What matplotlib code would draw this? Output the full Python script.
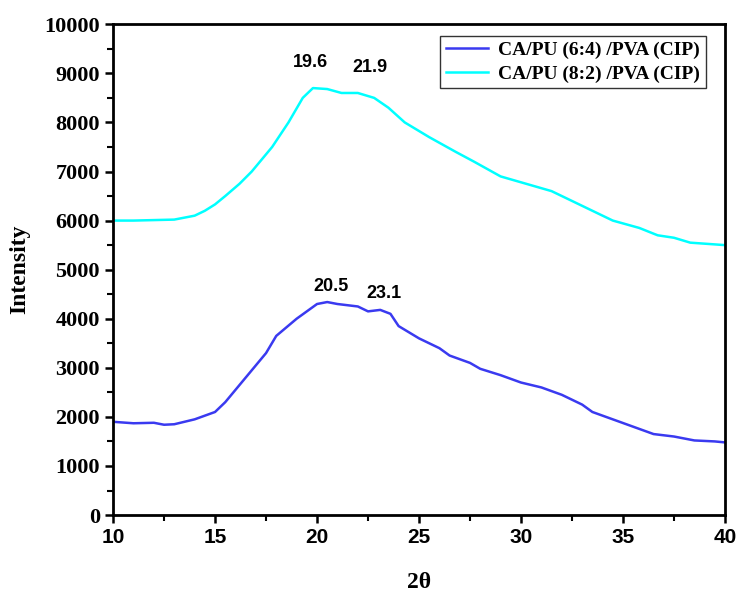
#!/usr/bin/env python3
"""XRD patterns of CA/PU/PVA (CIP) films."""

import matplotlib
matplotlib.use("Agg")  # headless
import matplotlib.pyplot as plt
from matplotlib.ticker import MultipleLocator

# 2theta positions and intensities
theta_64 = [10, 11, 12, 12.5, 13, 14, 15, 15.5, 16.5, 17.5, 18, 19, 20, 20.5,
            21, 22, 22.5, 23.1, 23.6, 24, 25, 26, 26.5, 27.5, 28, 29, 30, 31,
            32, 33, 33.5, 34.5, 35.5, 36.5, 37.5, 38.5, 39.5, 40]
int_64 = [1900, 1870, 1880, 1840, 1850, 1950, 2100, 2300, 2800, 3300, 3650,
          4000, 4300, 4340, 4300, 4250, 4150, 4180, 4100, 3850, 3600, 3400,
          3250, 3100, 2980, 2850, 2700, 2600, 2450, 2250, 2100, 1950, 1800,
          1650, 1600, 1520, 1500, 1480]

theta_82 = [10, 11, 12, 13, 14, 14.5, 15, 15.5, 16.2, 16.8, 17.8, 18.6, 19.3,
            19.8, 20.5, 21.2, 22, 22.8, 23.5, 24.3, 25.5, 26.8, 27.7, 29, 30,
            31.5, 32.5, 33.5, 34.5, 35.8, 36.7, 37.5, 38.3, 40]
int_82 = [6000, 6000, 6010, 6020, 6100, 6200, 6330, 6500, 6750, 7000, 7500,
          8000, 8500, 8700, 8680, 8600, 8600, 8500, 8300, 8000, 7700, 7400,
          7200, 6900, 6780, 6600, 6400, 6200, 6000, 5850, 5700, 5650, 5550,
          5500]

peak_labels = ["19.6", "21.9", "20.5", "23.1"]
peak_x = [19.66, 22.6, 20.7, 23.3]
peak_y = [9230, 9120, 4660, 4520]

SERIF = "Liberation Serif"
SANS = "Liberation Sans"

fig = plt.figure(figsize=(7.39, 5.92), dpi=100)
ax = fig.add_axes([0.153, 0.130, 0.828, 0.829])

ax.plot(theta_64, int_64, color="#3a3af0", linewidth=1.8,
        label="CA/PU (6:4) /PVA (CIP)")
ax.plot(theta_82, int_82, color="#00ffff", linewidth=1.8,
        label="CA/PU (8:2) /PVA (CIP)")

for txt, x, y in zip(peak_labels, peak_x, peak_y):
    ax.text(x, y, txt, ha="center", va="center", fontsize=13,
            fontweight="bold", family=SANS)

ax.set_xlim(10, 40)
ax.set_ylim(0, 10000)
ax.xaxis.set_major_locator(MultipleLocator(5))
ax.xaxis.set_minor_locator(MultipleLocator(2.5))
ax.yaxis.set_major_locator(MultipleLocator(1000))
ax.yaxis.set_minor_locator(MultipleLocator(500))
ax.tick_params(which="major", direction="out", length=6, width=1.8)
ax.tick_params(which="minor", direction="out", length=4, width=1.5)
for sp in ax.spines.values():
    sp.set_linewidth(2)

for lab in ax.get_xticklabels():
    lab.set_fontfamily(SANS)
    lab.set_fontweight("bold")
    lab.set_fontsize(15)
for lab in ax.get_yticklabels():
    lab.set_fontfamily(SERIF)
    lab.set_fontweight("bold")
    lab.set_fontsize(16)

ax.set_xlabel("2θ", fontsize=17, fontweight="bold", family=SERIF, labelpad=18)
ax.set_ylabel("Intensity", fontsize=17, fontweight="bold", family=SERIF,
              labelpad=10)

leg = ax.legend(loc="upper right", bbox_to_anchor=(0.975, 0.985),
                prop={"family": SERIF, "weight": "bold", "size": 14},
                frameon=True, fancybox=False, handlelength=2.2,
                borderpad=0.3, labelspacing=0.3, handletextpad=0.5,
                borderaxespad=0.2)
leg.get_frame().set_edgecolor("black")
leg.get_frame().set_linewidth(1.0)

fig.savefig("out.png", dpi=100)
plt.close(fig)
